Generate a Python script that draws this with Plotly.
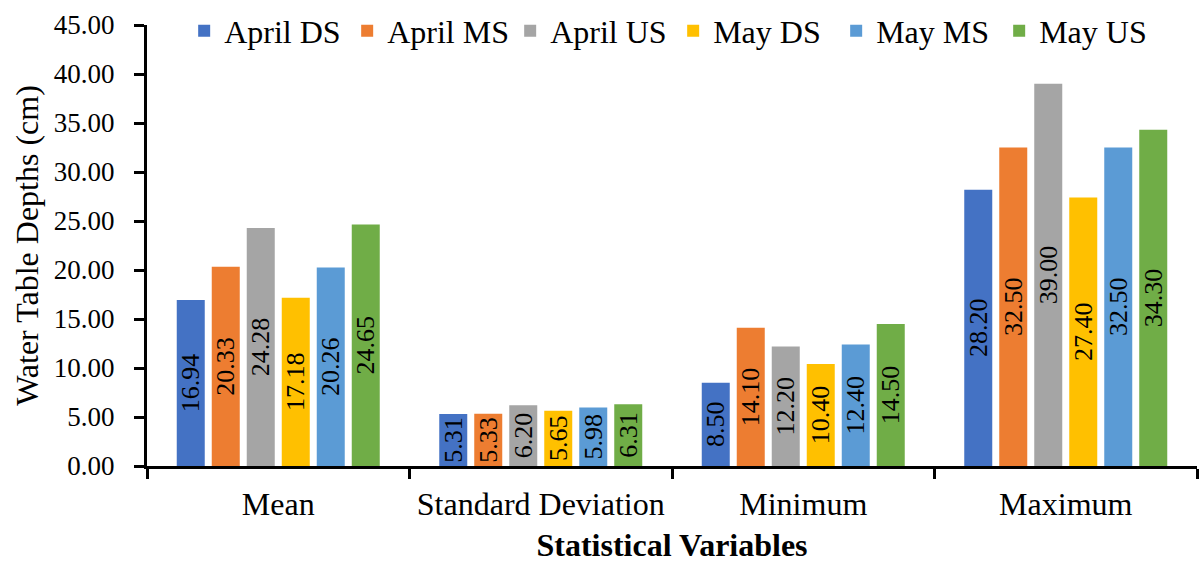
import plotly.graph_objects as go

# Statistical summary of water table depths (cm) per month and station
categories = ["Mean", "Standard Deviation", "Minimum", "Maximum"]

april_ds = [16.94, 5.31, 8.50, 28.20]
april_ms = [20.33, 5.33, 14.10, 32.50]
april_us = [24.28, 6.20, 12.20, 39.00]
may_ds = [17.18, 5.65, 10.40, 27.40]
may_ms = [20.26, 5.98, 12.40, 32.50]
may_us = [24.65, 6.31, 14.50, 34.30]

series_names = ["April DS", "April MS", "April US", "May DS", "May MS", "May US"]
series_values = [april_ds, april_ms, april_us, may_ds, may_ms, may_us]
series_colors = ["#4472C4", "#ED7D31", "#A5A5A5", "#FFC000", "#5B9BD5", "#70AD47"]

y_ticks = [0, 5, 10, 15, 20, 25, 30, 35, 40, 45]

FONT = "Liberation Serif, Times New Roman, serif"

fig = go.Figure()
for name, vals, color in zip(series_names, series_values, series_colors):
    fig.add_trace(go.Bar(
        name=name,
        x=categories,
        y=vals,
        marker=dict(color=color, line=dict(width=0)),
        text=[f"{v:.2f}" for v in vals],
        textposition="inside",
        insidetextanchor="middle",
        textangle=-90,
        constraintext="none",
        textfont=dict(family=FONT, size=26, color="black"),
        cliponaxis=False,
    ))

fig.update_layout(
    width=1200,
    height=563,
    margin=dict(l=147, r=3, t=23, b=97),
    paper_bgcolor="white",
    plot_bgcolor="white",
    barmode="group",
    bargap=0.2,
    bargroupgap=0.2,
    font=dict(family=FONT, color="black"),
    showlegend=True,
    legend=dict(
        orientation="h",
        x=0.0354,
        xanchor="left",
        y=0.9865,
        yanchor="middle",
        font=dict(family=FONT, size=32, color="black"),
        bgcolor="rgba(0,0,0,0)",
        entrywidth=118,
        entrywidthmode="pixels",
        itemclick=False,
    ),
    xaxis=dict(
        type="category",
        showline=True,
        linecolor="black",
        linewidth=3,
        ticks="outside",
        tickson="boundaries",
        ticklen=10,
        tickwidth=3,
        tickcolor="black",
        tickfont=dict(family=FONT, size=32, color="black"),
        ticklabelstandoff=8,
        showgrid=False,
        title=dict(
            text="<b>Statistical Variables</b>",
            font=dict(family=FONT, size=32, color="black"),
            standoff=14,
        ),
    ),
    yaxis=dict(
        range=[0, 45],
        tickvals=y_ticks,
        tickformat=".2f",
        showline=True,
        linecolor="black",
        linewidth=3,
        ticks="outside",
        ticklen=10,
        tickwidth=3,
        tickcolor="black",
        tickfont=dict(family=FONT, size=27, color="black"),
        ticklabelstandoff=14,
        showgrid=False,
        zeroline=False,
        title=dict(
            text="Water Table Depths (cm)",
            font=dict(family=FONT, size=32, color="black"),
            standoff=6,
        ),
    ),
)

fig.write_html("out.html")
